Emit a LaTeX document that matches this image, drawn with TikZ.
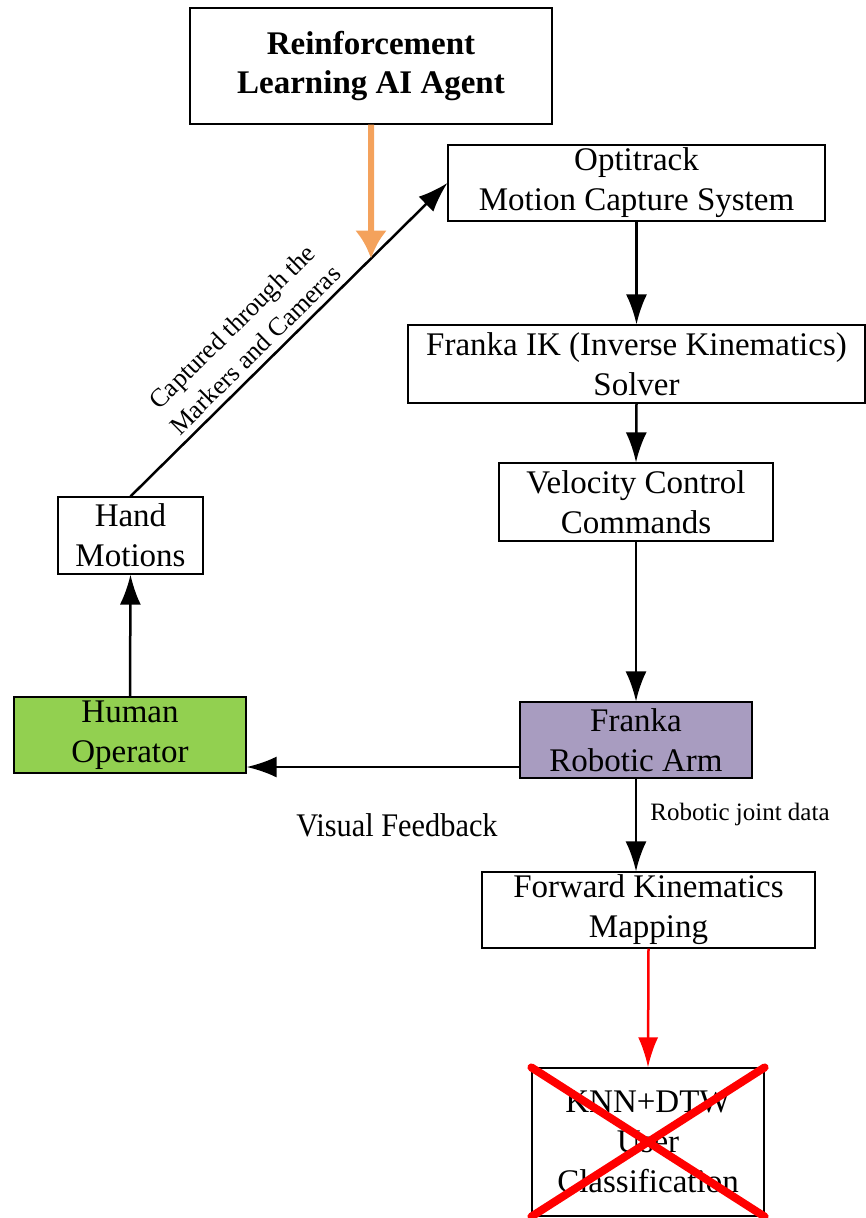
\documentclass[tikz,border=0pt]{standalone}
\usepackage{fontspec}
\setmainfont{Liberation Serif}
\usetikzlibrary{arrows.meta}
\definecolor{armpurple}{RGB}{168,156,192}
\definecolor{operatorgreen}{RGB}{146,208,80}
\definecolor{agentorange}{RGB}{244,162,92}

\begin{document}
\begin{tikzpicture}[x=1pt,y=-1pt,
        every node/.style={draw,line width=1.2pt,align=center,inner sep=0pt,font=\fontsize{33}{40}\selectfont}]
        \tikzset{edge/.style = {-{Latex[length=30pt,width=21pt]},line width=2.5pt}}
        \tikzset{tag/.style = {draw=none}}
        \useasboundingbox (0,0) rectangle (866,1218);

        \node[minimum width=362pt,minimum height=116pt,font=\fontsize{33}{39}\selectfont\bfseries] (agent) at (371,66) {Reinforcement\\Learning AI Agent};
        \node[minimum width=377pt,minimum height=76pt] (opti) at (636.5,183) {Optitrack\\Motion Capture System};
        \node[minimum width=457pt,minimum height=78pt] (ik) at (636.5,364) {Franka IK (Inverse Kinematics)\\Solver};
        \node[minimum width=274pt,minimum height=78pt] (vel) at (636,502) {Velocity Control\\Commands};
        \node[minimum width=232pt,minimum height=76pt,fill=armpurple] (arm) at (636,740) {Franka\\Robotic Arm};
        \node[minimum width=232pt,minimum height=76pt,fill=operatorgreen] (human) at (130,735) {Human\\Operator};
        \node[minimum width=145pt,minimum height=77pt] (hand) at (130.5,535.5) {Hand\\Motions};
        \node[minimum width=333pt,minimum height=76pt] (fk) at (648.5,910) {Forward Kinematics\\Mapping};
        \node[minimum width=232pt,minimum height=148pt] (knn) at (648,1142) {KNN+DTW\\User\\Classification};

        \node[tag] (visual) at (397,825) {\scalebox{0.92}[1]{Visual Feedback}};
        \node[tag,font=\fontsize{25}{29}\selectfont] (joint) at (740,814) {Robotic joint data};

        \draw[edge] (hand.north) -- node[tag,sloped,above,pos=0.43,yshift=7pt,font=\fontsize{26}{33}\selectfont] {Captured through the\\Markers and Cameras} (opti.west);
        \draw[edge] (opti.south -| ik.north) -- (ik.north);
        \draw[edge] (ik.south) -- (vel.north);
        \draw[edge] (vel.south) -- (arm.north);
        \draw[edge] ([yshift=-27pt]arm.west) -- ([yshift=-27pt]arm.west -| human.east);
        \draw[edge] (human.north) -- (hand.south);
        \draw[edge] (arm.south) -- (arm.south |- fk.north);

        \coordinate (hit) at (intersection of agent.south--agent.center and hand.north--opti.west);
        \draw[-{Latex[length=28pt,width=32pt]},line width=6pt,agentorange] (agent.south) -- (hit);

        \draw[-{Latex[length=30pt,width=20pt]},line width=2.5pt,red] (fk.south) -- (knn.north);
        \draw[red,line width=8pt,line cap=round] (knn.north west) -- (knn.south east);
        \draw[red,line width=8pt,line cap=round] (knn.north east) -- (knn.south west);
\end{tikzpicture}
\end{document}
